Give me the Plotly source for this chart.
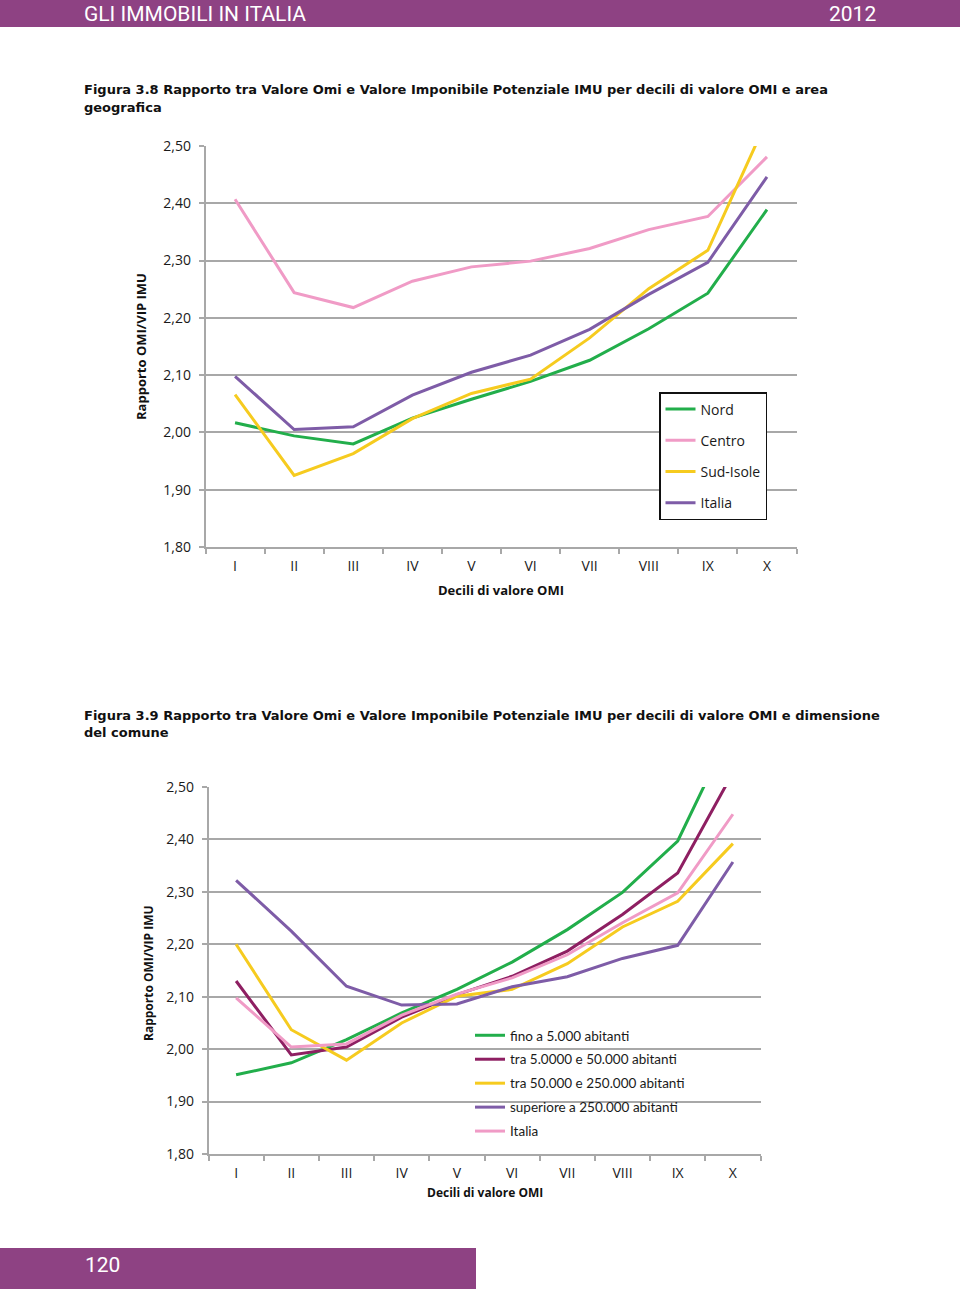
import plotly.graph_objects as go

deciles = ["I", "II", "III", "IV", "V", "VI", "VII", "VIII", "IX", "X"]

# Figura 3.8 - area geografica
nord = [2.017, 1.994, 1.980, 2.025, 2.058, 2.089, 2.126, 2.181, 2.243, 2.389]
centro = [2.407, 2.244, 2.218, 2.264, 2.289, 2.299, 2.321, 2.354, 2.377, 2.481]
sud_isole = [2.066, 1.925, 1.963, 2.024, 2.068, 2.093, 2.165, 2.251, 2.318, 2.545]
italia = [2.098, 2.005, 2.010, 2.065, 2.105, 2.135, 2.180, 2.241, 2.297, 2.446]

# Figura 3.9 - dimensione del comune
fino_5000 = [1.951, 1.974, 2.018, 2.069, 2.114, 2.166, 2.228, 2.299, 2.397, 2.616]
tra_5000_50000 = [2.130, 1.989, 2.004, 2.061, 2.104, 2.139, 2.187, 2.257, 2.336, 2.527]
tra_50000_250000 = [2.200, 2.037, 1.979, 2.050, 2.101, 2.114, 2.163, 2.233, 2.282, 2.392]
sup_250000 = [2.322, 2.225, 2.120, 2.084, 2.086, 2.119, 2.138, 2.173, 2.198, 2.357]
italia2 = [2.098, 2.004, 2.010, 2.065, 2.105, 2.136, 2.180, 2.241, 2.298, 2.448]

y_ticks = [1.80, 1.90, 2.00, 2.10, 2.20, 2.30, 2.40, 2.50]

GREEN = "#22AE4B"
PINK = "#F09BC6"
YELLOW = "#F6CB1F"
PURPLE = "#7E5CA7"
MAGENTA = "#8E1F62"
HEADER = "#8E4283"
GRID = "#A8A8A8"

fig = go.Figure()

series1 = [("Nord", nord, GREEN), ("Centro", centro, PINK),
           ("Sud-Isole", sud_isole, YELLOW), ("Italia", italia, PURPLE)]
for name, vals, col in series1:
    fig.add_trace(go.Scatter(x=deciles, y=vals, name=name, mode="lines",
                             line=dict(color=col, width=3), legendgroup=name,
                             xaxis="x", yaxis="y", legend="legend"))

series2 = [("fino a 5.000 abitanti", fino_5000, GREEN),
           ("tra 5.0000 e 50.000 abitanti", tra_5000_50000, MAGENTA),
           ("tra 50.000 e 250.000 abitanti", tra_50000_250000, YELLOW),
           ("superiore a 250.000 abitanti", sup_250000, PURPLE),
           ("Italia", italia2, PINK)]
for name, vals, col in series2:
    fig.add_trace(go.Scatter(x=deciles, y=vals, name=name, mode="lines",
                             line=dict(color=col, width=3), legendgroup="b" + name,
                             xaxis="x2", yaxis="y2", legend="legend2"))

FONT = "Open Sans, Liberation Sans, sans-serif"
tickfont = dict(family=FONT, size=14, color="#1a1a1a")

def xaxis_cfg(domain, anchor):
    return dict(domain=domain, anchor=anchor, type="category",
                range=[-0.5, 9.5], showgrid=False, showline=True,
                linecolor=GRID, linewidth=1.5, ticks="outside",
                tickson="boundaries", ticklen=5, tickcolor=GRID, tickwidth=1.5,
                tickfont=tickfont, ticklabelstandoff=5, fixedrange=True,
                automargin=False)

def yaxis_cfg(domain, anchor):
    return dict(domain=domain, anchor=anchor, range=[1.80, 2.50],
                tickvals=y_ticks, tickformat=".2f", showgrid=True,
                gridcolor=GRID, gridwidth=1.5, showline=True, linecolor=GRID,
                linewidth=1.5, ticks="outside", ticklen=5, tickcolor=GRID,
                tickwidth=1.5, tickfont=tickfont, ticklabelstandoff=5,
                zeroline=False, fixedrange=True, automargin=False)

W, H = 960, 1295
fig.update_layout(
    width=W, height=H, autosize=False,
    margin=dict(l=0, r=0, t=0, b=0, pad=0, autoexpand=False),
    paper_bgcolor="white", plot_bgcolor="white", separators=",.",
    xaxis=xaxis_cfg([205.5 / W, 796.5 / W], "y"),
    yaxis=yaxis_cfg([1 - 547 / H, 1 - 146 / H], "x"),
    xaxis2=xaxis_cfg([208.5 / W, 760.5 / W], "y2"),
    yaxis2=yaxis_cfg([1 - 1154 / H, 1 - 787 / H], "x2"),
    legend=dict(x=659 / W, y=1 - 392 / H, xanchor="left", yanchor="top",
                bgcolor="white", bordercolor="#111111", borderwidth=1.5,
                traceorder="grouped", tracegroupgap=10,
                font=dict(family=FONT, size=14, color="#1a1a1a")),
    legend2=dict(x=470 / W, y=1 - 1020 / H, xanchor="left", yanchor="top",
                 bgcolor="rgba(0,0,0,0)", borderwidth=0,
                 traceorder="grouped", tracegroupgap=3.4,
                 font=dict(family="Lato, Open Sans, sans-serif", size=13.5, color="#1a1a1a")),
    showlegend=True,
)

shapes = [
    dict(type="rect", xref="paper", yref="paper", x0=0, x1=1, y0=1 - 27 / H, y1=1,
         fillcolor=HEADER, line=dict(width=0), layer="below"),
    dict(type="rect", xref="paper", yref="paper", x0=0, x1=476 / W,
         y0=1 - 1289 / H, y1=1 - 1248 / H, fillcolor=HEADER, line=dict(width=0), layer="below"),
]
fig.update_layout(shapes=shapes)

cap_font = dict(family="DejaVu Sans, Verdana, sans-serif", size=13, color="#111111")
bold_font = dict(family=FONT, size=13, color="#111111")
hdr_font = dict(family="Liberation Sans Narrow, Roboto, sans-serif", size=21, color="white")
ann = [
    dict(text="GLI IMMOBILI IN ITALIA", x=82 / W, y=1 - 14 / H, xanchor="left", yanchor="middle", font=hdr_font),
    dict(text="2012", x=878 / W, y=1 - 14 / H, xanchor="right", yanchor="middle", font=hdr_font),
    dict(text="120", x=83 / W, y=1 - 1265 / H, xanchor="left", yanchor="middle", font=hdr_font),
    dict(text="<b>Figura 3.8 Rapporto tra Valore Omi e Valore Imponibile Potenziale IMU per decili di valore OMI e area</b>",
         x=82 / W, y=1 - 89 / H, xanchor="left", yanchor="middle", font=cap_font),
    dict(text="<b>geografica</b>", x=82 / W, y=1 - 107 / H, xanchor="left", yanchor="middle", font=cap_font),
    dict(text="<b>Figura 3.9 Rapporto tra Valore Omi e Valore Imponibile Potenziale IMU per decili di valore OMI e dimensione</b>",
         x=82 / W, y=1 - 715 / H, xanchor="left", yanchor="middle", font=cap_font),
    dict(text="<b>del comune</b>", x=82 / W, y=1 - 732 / H, xanchor="left", yanchor="middle", font=cap_font),
    dict(text="<b>Decili di valore OMI</b>", x=501 / W, y=1 - 590 / H, xanchor="center", yanchor="middle",
         font=bold_font),
    dict(text="<b>Rapporto OMI/VIP IMU</b>", x=141 / W, y=1 - 347 / H, xanchor="center", yanchor="middle",
         textangle=-90, font=bold_font),
    dict(text="<b>Decili di valore OMI</b>", x=485 / W, y=1 - 1192 / H, xanchor="center", yanchor="middle",
         font=dict(family=FONT, size=12, color="#111111")),
    dict(text="<b>Rapporto OMI/VIP IMU</b>", x=148 / W, y=1 - 973 / H, xanchor="center", yanchor="middle",
         textangle=-90, font=dict(family=FONT, size=12, color="#111111")),
]
for a in ann:
    a.update(xref="paper", yref="paper", showarrow=False)
fig.update_layout(annotations=ann)

fig.write_html("out.html", post_script="document.body.style.margin='0';document.body.style.padding='0';")
